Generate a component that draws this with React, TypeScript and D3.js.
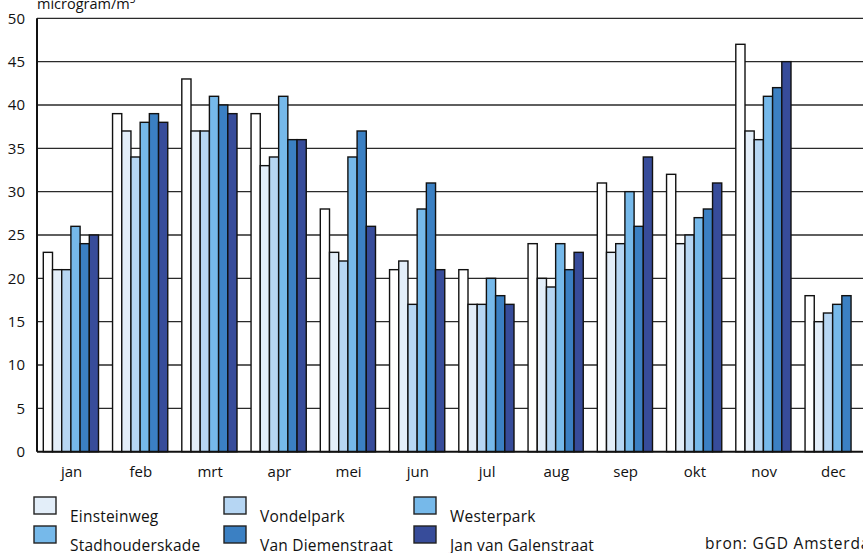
import React from "react";
import * as d3 from "d3";

const months = ["jan", "feb", "mrt", "apr", "mei", "jun", "jul", "aug", "sep", "okt", "nov", "dec"];
const seriesNames = ["Einsteinweg", "Vondelpark", "Westerpark", "Stadhouderskade", "Van Diemenstraat", "Jan van Galenstraat"];
const einsteinweg = [23, 39, 43, 39, 28, 21, 21, 24, 31, 32, 47, 18];
const vondelpark = [21, 37, 37, 33, 23, 22, 17, 20, 23, 24, 37, 15];
const westerpark = [21, 34, 37, 34, 22, 17, 17, 19, 24, 25, 36, 16];
const stadhouderskade = [26, 38, 41, 41, 34, 28, 20, 24, 30, 27, 41, 17];
const vanDiemenstraat = [24, 39, 40, 36, 37, 31, 18, 21, 26, 28, 42, 18];
const janVanGalenstraat = [25, 38, 39, 36, 26, 21, 17, 23, 34, 31, 45, null];
const yTicks = [0, 5, 10, 15, 20, 25, 30, 35, 40, 45, 50];

const seriesValues = [einsteinweg, vondelpark, westerpark, stadhouderskade, vanDiemenstraat, janVanGalenstraat];
const barColors = ["#ffffff", "#e3eef9", "#b6d6f3", "#76b9ea", "#3b80c3", "#374c9a"];
const legendColors = ["#e3eef9", "#b6d6f3", "#76b9ea", "#76b9ea", "#3b80c3", "#374c9a"];

const FONT = "'Open Sans', Lato, sans-serif";

export default function App() {
  const W = 863;
  const H = 553;
  const left = 37;
  const step = 69.25;
  const x = d3.scaleBand<string>().domain(months).range([left, left + step * months.length]).paddingInner(0).paddingOuter(0);
  const y = d3.scaleLinear().domain([0, 50]).range([451.7, 18.3]);
  const barW = 9.2;
  const groupOffset = 6.3;
  const xs = d3.scaleBand<number>().domain(d3.range(seriesNames.length)).range([groupOffset, groupOffset + barW * seriesNames.length]);

  const legendCols = [34, 224, 414];
  const legendRows = [497, 526];

  return (
    <svg width={W} height={H} style={{ position: "absolute", left: 0, top: 0, background: "#fff" }} fontFamily={FONT}>
      <rect x={0} y={0} width={W} height={H} fill="#fff" />
      {yTicks.map((t) => (
        <g key={t}>
          {t > 0 && <line x1={left} x2={W} y1={y(t)} y2={y(t)} stroke="#2a2a2a" strokeWidth={1.3} />}
          <text x={25} y={y(t)} dy="0.36em" textAnchor="end" fontSize={15} fill="#111">{t}</text>
        </g>
      ))}
      {months.map((m, mi) => (
        <g key={m} transform={`translate(${x(m)},0)`}>
          {seriesValues.map((vals, si) => {
            const v = vals[mi];
            if (v == null) return null;
            return (
              <rect key={si} x={xs(si)} y={y(v)} width={xs.bandwidth()} height={y(0) - y(v)}
                fill={barColors[si]} stroke="#111" strokeWidth={1.4} />
            );
          })}
          <text x={x.bandwidth() / 2} y={477} textAnchor="middle" fontSize={15} fill="#111">{m}</text>
        </g>
      ))}
      <line x1={left} x2={left} y1={y(50)} y2={y(0)} stroke="#111" strokeWidth={2} />
      <line x1={left} x2={W} y1={y(0)} y2={y(0)} stroke="#111" strokeWidth={2} />
      <text x={37} y={9} fontSize={14.5} fill="#111">microgram/m<tspan fontSize={10} dy={-6}>3</tspan></text>
      {seriesNames.map((name, i) => {
        const col = i % 3;
        const row = Math.floor(i / 3);
        const lx = legendCols[col];
        const ly = legendRows[row];
        return (
          <g key={name}>
            <rect x={lx} y={ly} width={22} height={17} fill={legendColors[i]} stroke="#222" strokeWidth={1.4} />
            <text x={lx + 36} y={ly + 25} fontSize={15.5} letterSpacing={0.2} fill="#111">{name}</text>
          </g>
        );
      })}
      <text x={705} y={549} fontSize={15.5} letterSpacing={0.8} fill="#111">bron: GGD Amsterdam</text>
    </svg>
  );
}
